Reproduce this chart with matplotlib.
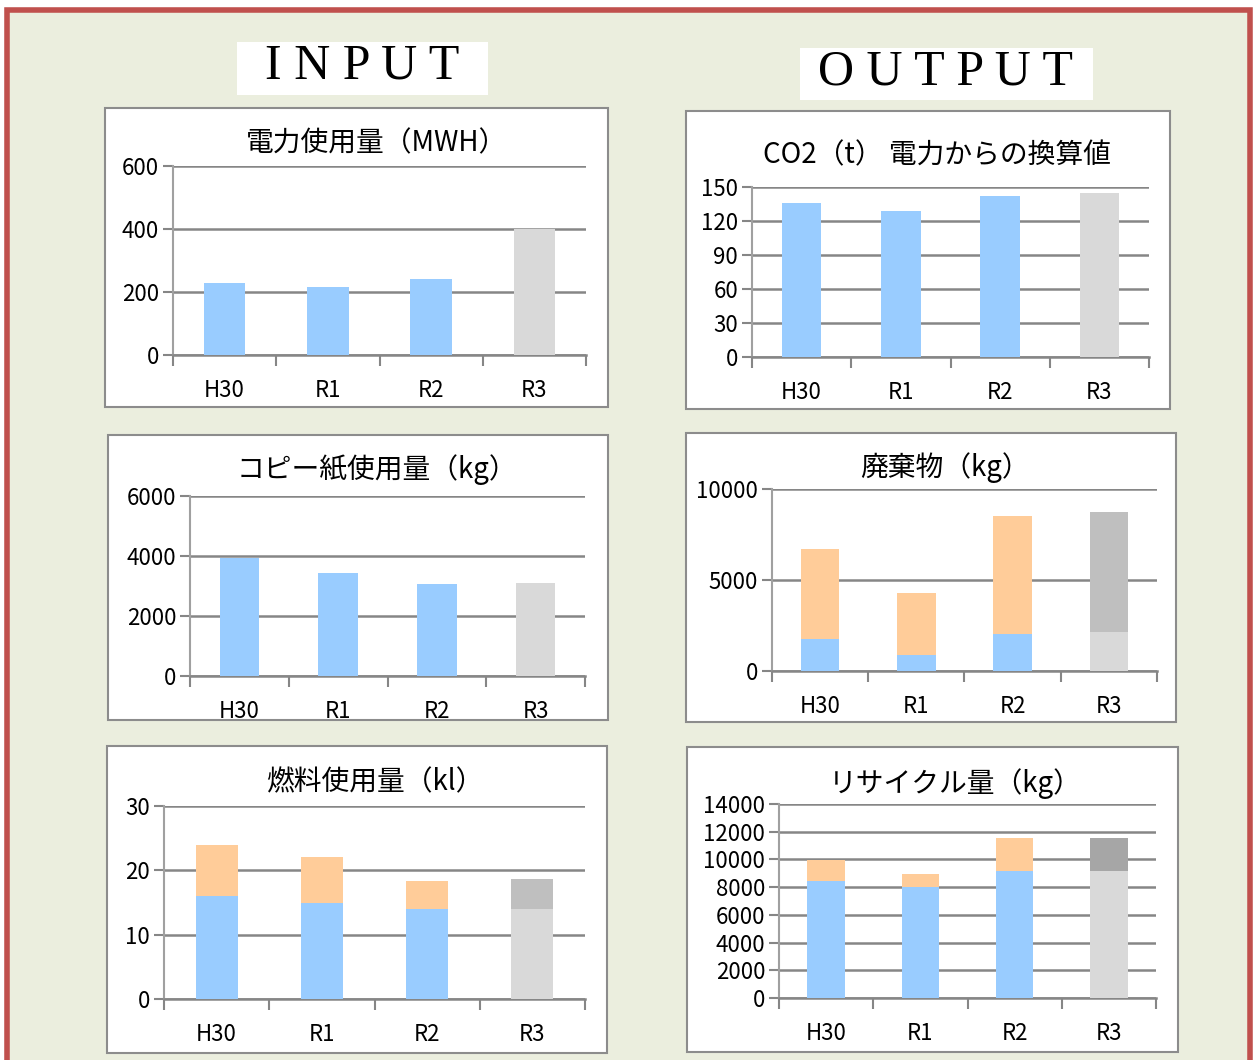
import matplotlib.pyplot as plt
from matplotlib.patches import Rectangle

plt.rcParams['font.family'] = ['Noto Sans CJK JP', 'DejaVu Sans']

W, H = 1257, 1060

years = ['H30', 'R1', 'R2', 'R3']

# INPUT
power = [227, 217, 240, 400]
paper = [3930, 3420, 3060, 3090]
fuel_a = [16.0, 14.95, 13.97, 14.0]
fuel_b = [8.0, 7.05, 4.43, 4.6]

# OUTPUT
co2 = [136, 129, 142, 144.5]
waste_a = [1770, 880, 2060, 2150]
waste_b = [4960, 3400, 6470, 6600]
recycle_a = [8440, 8010, 9190, 9190]
recycle_b = [1495, 940, 2380, 2380]

blue = '#99CCFF'
orange = '#FFCC99'
gray_lo = '#D9D9D9'
gray_hi = '#BFBFBF'
gray_hi2 = '#A6A6A6'
grid_c = '#868686'

fig = plt.figure(figsize=(W / 100, H / 100), dpi=100)
fig.patch.set_facecolor('white')

# page background with red frame
fig.add_artist(Rectangle((7 / W, -0.02), (W - 14) / W, 1.02 - 10 / H,
                         transform=fig.transFigure, facecolor='#EBEEDE',
                         edgecolor='#C0504D', linewidth=4, zorder=-3))


def px_box(x0, y0, x1, y1):
    fig.add_artist(Rectangle((x0 / W, 1 - y1 / H), (x1 - x0) / W, (y1 - y0) / H,
                             transform=fig.transFigure, facecolor='white',
                             edgecolor='#8C8C8C', linewidth=1.5, zorder=-2))


def px_axes(x0, y0, x1, y1):
    return fig.add_axes([x0 / W, 1 - y1 / H, (x1 - x0) / W, (y1 - y0) / H])


def panel(box, area, title, tpos, ymax, step, series):
    px_box(*box)
    ax = px_axes(*area)
    ax.set_facecolor('none')
    x = range(len(years))
    bottom = [0] * len(years)
    for vals, cols in series:
        ax.bar(x, vals, width=0.4, bottom=bottom, color=cols, zorder=3)
        bottom = [b + v for b, v in zip(bottom, vals)]
    ax.set_xlim(-0.5, 3.5)
    ax.set_ylim(0, ymax)
    ax.set_yticks(range(0, ymax + 1, step))
    ax.yaxis.grid(True, color=grid_c, linewidth=1.8, zorder=0)
    for s in ['top', 'right']:
        ax.spines[s].set_visible(False)
    ax.spines['left'].set_color('#A0A0A0')
    ax.spines['left'].set_linewidth(1.5)
    ax.spines['bottom'].set_color(grid_c)
    ax.spines['bottom'].set_linewidth(1.8)
    ax.set_xticks([-0.5, 0.5, 1.5, 2.5, 3.5])
    ax.set_xticklabels([])
    ax.set_xticks(list(x), minor=True)
    ax.set_xticklabels(years, minor=True, fontsize=16)
    ax.tick_params(axis='x', which='major', length=8, width=1.5, color=grid_c)
    ax.tick_params(axis='x', which='minor', length=0, pad=17)
    ax.tick_params(axis='y', length=7, width=1.5, color=grid_c, labelsize=16, pad=3)
    fig.text(tpos[0] / W, 1 - tpos[1] / H, title, ha='center', va='center', fontsize=20)
    return ax


panel((105, 108, 608, 407), (173, 166, 586, 355), '電力使用量（MWH）', (377, 143),
      600, 200, [(power, [blue, blue, blue, gray_lo])])
panel((108, 435, 608, 720), (190, 496, 585, 676), 'コピー紙使用量（kg）', (377, 470),
      6000, 2000, [(paper, [blue, blue, blue, gray_lo])])
panel((107, 746, 607, 1053), (164, 806, 585, 999), '燃料使用量（kl）', (375, 782),
      30, 10, [(fuel_a, [blue, blue, blue, gray_lo]), (fuel_b, [orange, orange, orange, gray_hi])])

panel((686, 111, 1170, 409), (752, 187, 1149, 357), 'CO2（t） 電力からの換算値', (937, 155),
      150, 30, [(co2, [blue, blue, blue, gray_lo])])
panel((686, 433, 1176, 722), (772, 489, 1157, 671), '廃棄物（kg）', (945, 468),
      10000, 5000, [(waste_a, [blue, blue, blue, gray_lo]), (waste_b, [orange, orange, orange, gray_hi])])
panel((687, 747, 1178, 1052), (779, 804, 1156, 998), 'リサイクル量（kg）', (955, 784),
      14000, 2000, [(recycle_a, [blue, blue, blue, gray_lo]), (recycle_b, [orange, orange, orange, gray_hi2])])

# section headers
fig.add_artist(Rectangle((237 / W, 1 - 95 / H), 251 / W, 53 / H,
                         transform=fig.transFigure, facecolor='white', edgecolor='none', zorder=-2))
fig.add_artist(Rectangle((800 / W, 1 - 100 / H), 293 / W, 52 / H,
                         transform=fig.transFigure, facecolor='white', edgecolor='none', zorder=-2))
fig.text(362 / W, 1 - 66 / H, 'I N P U T', ha='center', va='center', fontsize=36,
         family='Liberation Serif')
fig.text(946 / W, 1 - 72 / H, 'O U T P U T', ha='center', va='center', fontsize=36,
         family='Liberation Serif')

fig.savefig('out.png', dpi=100)
